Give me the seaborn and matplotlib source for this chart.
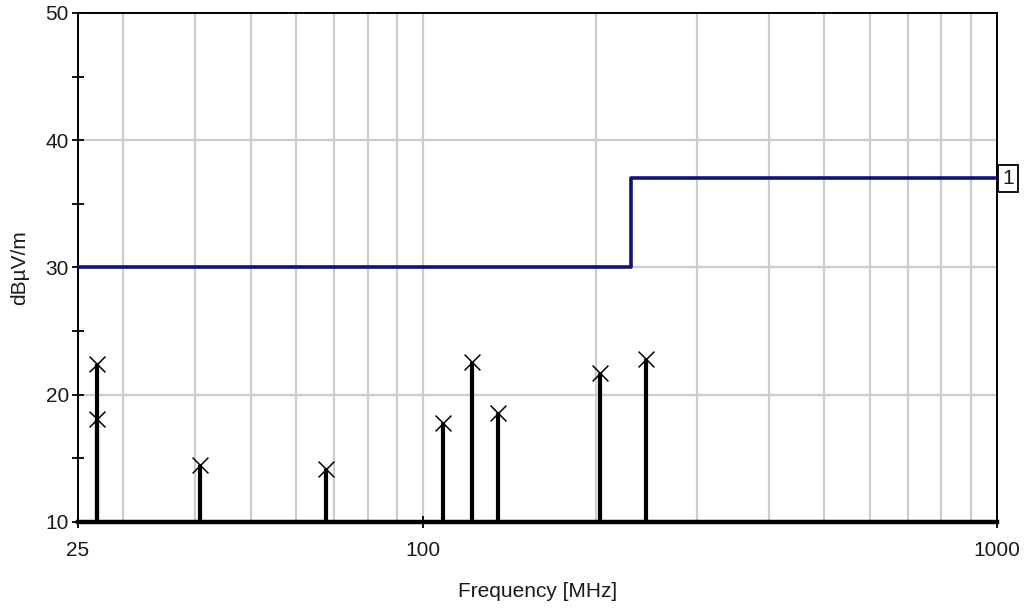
import numpy as np
import pandas as pd
import seaborn as sns
import matplotlib.pyplot as plt
from matplotlib.ticker import FixedLocator, NullFormatter

# peak readings (MHz, dBuV/m)
FreqPk  = [27.0, 27.0, 40.8, 67.6, 108.4, 121.4, 134.8, 203.0, 244.4]
LevelPk = [22.4, 18.1, 14.5, 14.2, 17.8, 22.6, 18.6, 21.7, 22.8]

# limit line
LimFreq  = [25, 230, 1000]
LimLevel = [30, 37, 37]

XTicks = [25, 100, 1000]
YTicks = [10, 20, 30, 40, 50]

sns.set_style("white")
plt.rcParams['font.family'] = ['Liberation Sans', 'DejaVu Sans']

fig = plt.figure(figsize=(10.26, 6.09), dpi=100)
ax = fig.add_axes([0.076, 0.1429, 0.8957, 0.8358])

ax.set_xscale('log')
ax.set_xlim(25, 1000)
ax.set_ylim(10, 50)

# grid: vertical on every decade step, horizontal on majors
Minor = [f * 10**d for d in (1, 2) for f in range(1, 10) if 25 < f * 10**d < 1000]
for f in Minor:
    ax.axvline(f, color='#cccccc', lw=1.6, zorder=0)
for y in [20, 30, 40]:
    ax.axhline(y, color='#cccccc', lw=1.6, zorder=0)

dfLim = pd.DataFrame({'Freq': LimFreq, 'Level': LimLevel})
sns.lineplot(data=dfLim, x='Freq', y='Level', drawstyle='steps-post',
             color='#14146e', lw=2.6, ax=ax, zorder=3)

ax.vlines(FreqPk, 10, LevelPk, color='black', lw=3.0, zorder=4)
dfPk = pd.DataFrame({'Freq': FreqPk, 'Level': LevelPk})
sns.scatterplot(data=dfPk, x='Freq', y='Level', marker='x', s=130,
                color='black', linewidth=1.1, ax=ax, zorder=5)

ax.xaxis.set_major_locator(FixedLocator(XTicks))
ax.xaxis.set_minor_locator(FixedLocator([]))
ax.set_xticklabels([str(t) for t in XTicks])
ax.yaxis.set_major_locator(FixedLocator(YTicks))
ax.yaxis.set_minor_locator(FixedLocator([15, 25, 35, 45]))
ax.yaxis.set_minor_formatter(NullFormatter())
ax.tick_params(axis='both', which='both', direction='inout', length=9,
               width=1.3, colors='black', labelcolor='#1a1a1a',
               labelsize=15, pad=2, bottom=True, left=True)
ax.tick_params(axis='x', pad=9)

ax.set_xlabel('Frequency [MHz]', fontsize=15, labelpad=16, color='#1a1a1a')
ax.set_ylabel('dBµV/m', fontsize=15, labelpad=12, color='#1a1a1a')

for s in ['top', 'right', 'left']:
    ax.spines[s].set_color('black')
    ax.spines[s].set_linewidth(1.4)
ax.spines['bottom'].set_color('black')
ax.spines['bottom'].set_linewidth(3.2)
ax.spines['bottom'].set_zorder(6)

ax.text(1.006, (37 - 10) / 40, '1', transform=ax.transAxes, fontsize=15,
        ha='left', va='center', color='#1a1a1a',
        bbox=dict(boxstyle='square,pad=0.2', fc='white', ec='black', lw=1.3))

plt.savefig('out.png', dpi=100)
plt.close()
